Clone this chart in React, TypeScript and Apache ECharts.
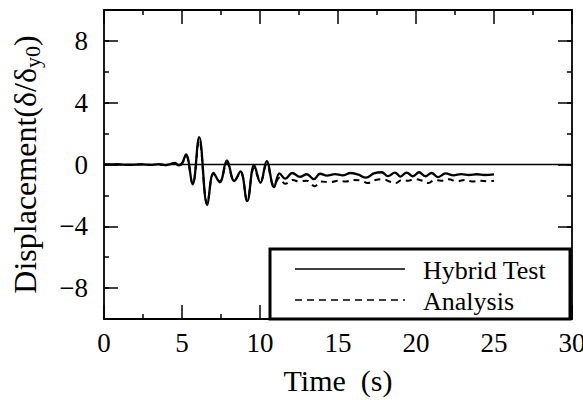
import { useEffect, useRef } from 'react';
import * as echarts from 'echarts';

const FONT = 'Liberation Serif';

// Axis ranges & labelled ticks
const xRange = [0, 30];
const xStep = 5;
const yRange = [-10, 10];
const yMajorTicks = [-8, -4, 0, 4, 8];
const yMinorStep = 2;

const legendNames = ['Hybrid Test', 'Analysis'];

// Hybrid test response [time (s), displacement δ/δy0]
const hybridTest: [number, number][] = [
  [0, 0], [0.8, 0.01], [1.6, -0.02], [2.4, 0.01], [3.0, -0.03], [3.5, 0.02],
  [3.9, -0.04], [4.25, 0.03], [4.55, 0.1], [4.78, -0.05], [5.0, 0.08],
  [5.26, 0.65], [5.68, -1.29], [6.1, 1.77], [6.62, -2.63], [7.02, -0.55],
  [7.42, -1.15], [7.88, 0.27], [8.35, -1.07], [8.75, -0.45], [9.18, -2.37],
  [9.62, -0.05], [10.03, -1.18], [10.43, 0.22], [10.9, -1.47], [11.25, -0.58],
  [11.62, -0.92], [12.07, -0.55], [12.56, -0.8], [13.0, -0.63], [13.45, -0.95],
  [13.85, -0.6], [14.3, -0.72], [14.8, -0.62], [15.3, -0.7], [15.8, -0.55],
  [16.3, -0.66], [16.8, -0.85], [17.3, -0.58], [17.8, -0.5], [18.2, -0.75],
  [18.65, -0.52], [19.0, -0.78], [19.4, -0.52], [19.8, -0.76], [20.2, -0.5],
  [20.6, -0.76], [21.0, -0.55], [21.4, -0.82], [21.9, -0.58], [22.4, -0.7],
  [22.9, -0.62], [23.4, -0.68], [23.9, -0.63], [24.4, -0.68], [25.0, -0.64],
];

// Analysis response [time (s), displacement δ/δy0]
const analysis: [number, number][] = [
  [0, 0], [0.8, 0.01], [1.6, -0.02], [2.4, 0.01], [3.0, -0.03], [3.5, 0.02],
  [3.9, -0.04], [4.25, 0.03], [4.55, 0.08], [4.78, -0.05], [5.0, 0.06],
  [5.26, 0.55], [5.68, -1.25], [6.1, 1.55], [6.62, -2.55], [7.02, -0.6],
  [7.42, -1.1], [7.88, 0.1], [8.35, -1.05], [8.75, -0.5], [9.18, -2.3],
  [9.62, -0.25], [10.03, -1.1], [10.43, 0.02], [10.9, -1.35], [11.25, -0.85],
  [11.62, -1.25], [12.1, -1.0], [12.5, -1.1], [13.0, -1.05], [13.5, -1.4],
  [13.9, -1.1], [14.5, -1.15], [15.0, -1.05], [15.5, -1.1], [16.0, -1.0],
  [16.5, -1.05], [16.9, -1.2], [17.4, -1.0], [17.9, -0.95], [18.3, -1.1],
  [18.7, -1.2], [19.1, -1.0], [19.5, -1.05], [19.9, -0.95], [20.4, -1.05],
  [20.8, -1.2], [21.2, -1.0], [21.6, -1.05], [22.1, -0.95], [22.6, -1.1],
  [23.1, -1.0], [23.6, -1.1], [24.1, -1.05], [24.6, -1.08], [25.0, -1.05],
];

// Zero reference line
const zeroLine: [number, number][] = [[0, 0], [30, 0]];

export default function App() {
  const ref = useRef<HTMLDivElement>(null);

  useEffect(() => {
    if (!ref.current) return;
    const chart = echarts.init(ref.current, undefined, { renderer: 'svg' });

    const axisLine = { show: true, onZero: false, lineStyle: { color: '#000', width: 1.8 } };
    const xCommon = {
      type: 'value' as const,
      min: xRange[0],
      max: xRange[1],
      interval: xStep,
      splitLine: { show: false },
      axisLine,
      axisTick: { show: true, inside: true, length: 14, lineStyle: { color: '#000', width: 1.5 } },
      minorTick: { show: true, splitNumber: 2, length: 5, lineStyle: { color: '#000', width: 1.5 } },
    };
    const yMajor = {
      type: 'value' as const,
      min: yRange[0],
      max: yRange[1],
      splitLine: { show: false },
      axisLine,
      axisTick: {
        show: true, inside: true, length: 14, customValues: yMajorTicks,
        lineStyle: { color: '#000', width: 1.5 },
      },
    };
    const yMinor = {
      type: 'value' as const,
      min: yRange[0],
      max: yRange[1],
      interval: yMinorStep,
      splitLine: { show: false },
      axisLine: { show: false, onZero: false },
      axisLabel: { show: false },
      axisTick: { show: true, inside: true, length: 5, lineStyle: { color: '#000', width: 1.5 } },
    };

    chart.setOption({
      animation: false,
      backgroundColor: '#fff',
      textStyle: { fontFamily: FONT },
      grid: {
        left: 104, right: 11, top: 10, bottom: 81,
        containLabel: false, outerBoundsMode: 'none',
      },
      xAxis: [
        {
          ...xCommon,
          position: 'bottom',
          name: 'Time  (s)',
          nameLocation: 'middle',
          nameGap: 46,
          nameTextStyle: { fontFamily: FONT, fontSize: 30, color: '#000' },
          axisLabel: { show: true, margin: 10, fontFamily: FONT, fontSize: 27, color: '#000' },
        },
        {
          ...xCommon,
          position: 'top',
          axisLabel: { show: false },
        },
      ],
      yAxis: [
        {
          ...yMajor,
          position: 'left',
          name: '{a|Displacement(δ/δ}{b|y0}{a|)}',
          nameLocation: 'middle',
          nameGap: 61,
          nameTextStyle: {
            color: '#000',
            fontFamily: FONT,
            rich: {
              a: { fontFamily: FONT, fontSize: 32, lineHeight: 36, color: '#000' },
              b: { fontFamily: FONT, fontSize: 22, verticalAlign: 'bottom', color: '#000' },
            },
          },
          axisLabel: {
            show: true, margin: 16, fontFamily: FONT, fontSize: 27, color: '#000',
            customValues: yMajorTicks,
            formatter: (v: number) => String(v).replace('-', '\u2212'),
          },
        },
        { ...yMinor, position: 'left' },
        { ...yMajor, position: 'right', axisLabel: { show: false } },
        { ...yMinor, position: 'right' },
      ],
      series: [
        {
          name: 'zero',
          type: 'line',
          xAxisIndex: 0,
          yAxisIndex: 0,
          data: zeroLine,
          symbol: 'none',
          silent: true,
          lineStyle: { color: '#000', width: 1.4 },
        },
        {
          name: legendNames[1],
          type: 'line',
          xAxisIndex: 0,
          yAxisIndex: 0,
          data: analysis,
          symbol: 'none',
          smooth: 0.4,
          lineStyle: { color: '#000', width: 2, type: [6, 5] },
        },
        {
          name: legendNames[0],
          type: 'line',
          xAxisIndex: 0,
          yAxisIndex: 0,
          data: hybridTest,
          symbol: 'none',
          smooth: 0.4,
          lineStyle: { color: '#000', width: 2.3 },
        },
      ],
      graphic: [
        {
          type: 'rect',
          z: 100,
          shape: { x: 270, y: 249, width: 300, height: 70 },
          style: { fill: '#fff', stroke: '#000', lineWidth: 3 },
        },
        {
          type: 'line',
          z: 101,
          shape: { x1: 295, y1: 269, x2: 405, y2: 269 },
          style: { stroke: '#000', lineWidth: 1.5 },
        },
        {
          type: 'line',
          z: 101,
          shape: { x1: 295, y1: 300, x2: 405, y2: 300 },
          style: { stroke: '#000', lineWidth: 1.5, lineDash: [7, 5] },
        },
        {
          type: 'text',
          z: 101,
          style: {
            text: legendNames[0], x: 423, y: 270, font: `26px ${FONT}`,
            fill: '#000', align: 'left', verticalAlign: 'middle',
          },
        },
        {
          type: 'text',
          z: 101,
          style: {
            text: legendNames[1], x: 423, y: 301, font: `26px ${FONT}`,
            fill: '#000', align: 'left', verticalAlign: 'middle',
          },
        },
      ],
    });

    return () => chart.dispose();
  }, []);

  return (
    <div
      ref={ref}
      style={{ position: 'fixed', left: 0, top: 0, width: 583, height: 400 }}
    />
  );
}
